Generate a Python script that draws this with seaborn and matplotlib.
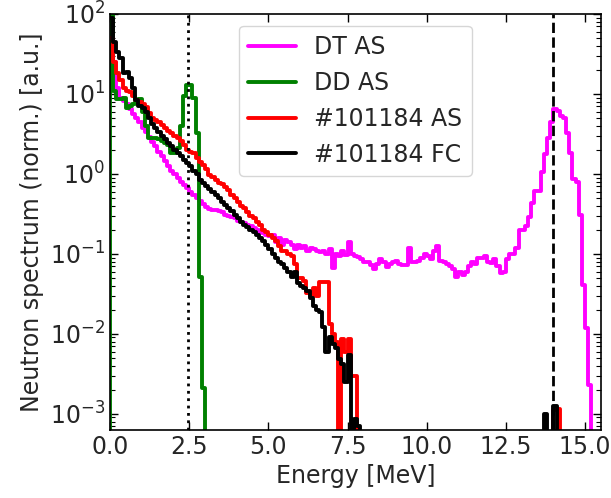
import numpy as np
import pandas as pd
import matplotlib
matplotlib.use("Agg")
import matplotlib.pyplot as plt
import seaborn as sns
from matplotlib.ticker import LogLocator, NullFormatter, MultipleLocator

# ---------------- data (0.1 MeV bins, 0.0 .. 15.5 MeV) ----------------
energy_edges = np.round(np.arange(0.0, 15.5 + 1e-9, 0.1), 2)

dt_as = [
    80, 25, 12, 9.0, 8.2, 7.5, 6.5, 5.6, 5.0, 4.4,
    3.8, 3.3, 2.9, 2.5, 2.2, 1.9, 1.65, 1.45, 1.25, 1.1,
    1.0, 0.9, 0.8, 0.72, 0.66, 0.6, 0.55, 0.5, 0.46, 0.42,
    0.38, 0.36, 0.35, 0.35, 0.34, 0.33, 0.31, 0.30, 0.29, 0.28,
    0.26, 0.25, 0.24, 0.23, 0.22, 0.21, 0.20, 0.19, 0.18, 0.17,
    0.165, 0.17, 0.14, 0.16, 0.13, 0.15, 0.14, 0.13, 0.115, 0.13,
    0.12, 0.125, 0.11, 0.12, 0.115, 0.11, 0.105, 0.11, 0.10, 0.115,
    0.066, 0.10, 0.095, 0.11, 0.098, 0.14, 0.10, 0.095, 0.092, 0.085,
    0.08, 0.078, 0.072, 0.065, 0.075, 0.085, 0.08, 0.068, 0.075, 0.08,
    0.082, 0.075, 0.073, 0.072, 0.12, 0.078, 0.08, 0.082, 0.09, 0.10,
    0.095, 0.085, 0.11, 0.125, 0.082, 0.08, 0.075, 0.07, 0.065, 0.052,
    0.06, 0.055, 0.06, 0.07, 0.08, 0.075, 0.088, 0.09, 0.094, 0.08,
    0.077, 0.085, 0.07, 0.057, 0.06, 0.085, 0.10, 0.10, 0.12, 0.2,
    0.2, 0.22, 0.29, 0.43, 0.61, 0.61, 1.07, 1.77, 2.8, 4.5,
    6.4, 6.1, 5.3, 5.0, 3.2, 1.8, 0.86, 0.8, 0.31, 0.041,
    0.0117, 0.0023, 0, 0, 0,
]

dd_as = [
    120, 11, 8.7, 8.7, 8.9, 6.7, 7.0, 7.4, 8.0, 8.7,
    6.0, 4.0, 2.8, 2.8, 2.8, 2.7, 2.6, 2.4, 2.3, 1.8,
    1.8, 2.1, 4.0, 9.5, 13.0, 13.0, 9.0, 3.2, 0.052, 0.0021,
] + [0] * 125

shot_as = [
    50, 25, 18, 15, 12, 11, 10.5, 9.5, 8.5, 8.0,
    7.4, 6.8, 5.8, 5.0, 4.7, 4.4, 4.1, 3.7, 3.4, 3.2,
    3.0, 2.8, 2.6, 2.3, 2.0, 1.9, 1.8, 1.6, 1.4, 1.3,
    1.15, 0.98, 0.92, 0.85, 0.76, 0.74, 0.68, 0.62, 0.55, 0.5,
    0.45, 0.4, 0.37, 0.33, 0.3, 0.28, 0.25, 0.23, 0.2, 0.185,
    0.17, 0.16, 0.145, 0.125, 0.107, 0.11, 0.1, 0.094, 0.074, 0.05,
    0.05, 0.046, 0.032, 0.03, 0.037, 0.03, 0.045, 0.045, 0.045, 0.0132,
    0.01, 0.008, 0, 0.0085, 0.006, 0.0085, 0.003, 0.003, 0, 0,
] + [0] * 60 + [
    0.0011, 0.00115, 0, 0, 0, 0, 0, 0, 0, 0,
    0, 0, 0, 0, 0,
]

shot_fc = [
    90, 45, 33, 28, 18, 19, 16, 12, 8.5, 7.0,
    6.6, 6.0, 5.0, 4.2, 3.7, 3.3, 3.0, 2.7, 2.4, 2.2,
    2.0, 1.8, 1.65, 1.5, 1.35, 1.25, 1.1, 1.0, 0.85, 0.78,
    0.7, 0.64, 0.6, 0.54, 0.5, 0.45, 0.41, 0.37, 0.34, 0.31,
    0.28, 0.25, 0.23, 0.215, 0.2, 0.185, 0.17, 0.16, 0.145, 0.13,
    0.115, 0.1, 0.09, 0.08, 0.074, 0.066, 0.06, 0.052, 0.06, 0.043,
    0.04, 0.037, 0.034, 0.028, 0.022, 0.02, 0.019, 0.012, 0.006, 0.009,
    0.0075, 0.0067, 0.0048, 0.0042, 0.0025, 0.0055, 0, 0.00087, 0.0007, 0,
] + [0] * 50 + [
    0, 0, 0, 0, 0, 0, 0, 0.001, 0, 0,
    0.00125, 0, 0, 0, 0, 0, 0, 0, 0, 0,
    0, 0, 0, 0, 0,
]

series_labels = ["DT AS", "DD AS", "#101184 AS", "#101184 FC"]
series_colors = ["magenta", "green", "red", "black"]
series_start_at_floor = [False, True, False, False]
dd_energy = 2.45
dt_energy = 14.0

# ---------------- figure ----------------
sns.set_style("ticks")
plt.rcParams["font.family"] = ["DejaVu Sans"]
FS = 17

fig = plt.figure(figsize=(6.11, 4.98), dpi=100)
ax = fig.add_axes([0.18, 0.137, 0.8036, 0.835])

floor = 1e-9
frames = []
for label, vals, from_floor in zip(series_labels,
                                   [dt_as, dd_as, shot_as, shot_fc],
                                   series_start_at_floor):
    v = np.asarray(vals, dtype=float)
    v = np.where(v > 0, v, floor)
    x = list(energy_edges[:-1]) + [energy_edges[-1]]
    y = list(v) + [floor]
    if from_floor:
        x = [energy_edges[0]] + x
        y = [floor] + y
    frames.append(pd.DataFrame({"Energy": x, "Spectrum": y, "series": label}))
df = pd.concat(frames, ignore_index=True)

sns.lineplot(data=df, x="Energy", y="Spectrum", hue="series",
             hue_order=series_labels,
             palette=dict(zip(series_labels, series_colors)),
             estimator=None, sort=False, drawstyle="steps-post",
             linewidth=2.8, ax=ax)

ax.axvline(dd_energy, color="black", linestyle=":", linewidth=2)
ax.axvline(dt_energy, color="black", linestyle="--", linewidth=2)

ax.set_yscale("log")
ax.set_xlim(0, 15.5)
ax.set_ylim(10 ** -3.2, 100)
ax.xaxis.set_major_locator(MultipleLocator(2.5))
ax.xaxis.set_major_formatter(matplotlib.ticker.FormatStrFormatter("%.1f"))
ax.yaxis.set_major_locator(LogLocator(base=10, numticks=10))
ax.yaxis.set_minor_locator(LogLocator(base=10, subs=np.arange(2, 10), numticks=20))
ax.yaxis.set_minor_formatter(NullFormatter())

ax.tick_params(which="both", direction="in", top=True, right=True,
               labelsize=FS, color="black")
ax.tick_params(which="major", length=6, width=1)
ax.tick_params(which="minor", length=3.5, width=0.8)
for s in ax.spines.values():
    s.set_linewidth(1.2)
    s.set_color("black")

ax.set_xlabel("Energy [MeV]", fontsize=FS)
ax.set_ylabel("Neutron spectrum (norm.) [a.u.]", fontsize=FS)

ax.legend(loc="upper center", fontsize=FS, frameon=True)

fig.savefig("out.png", dpi=100)
